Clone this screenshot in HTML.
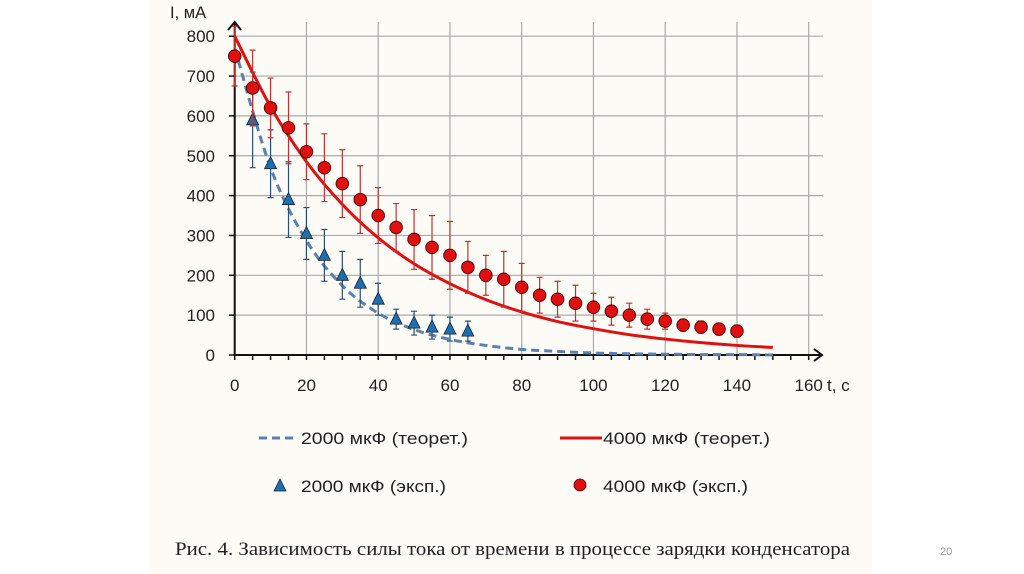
<!DOCTYPE html>
<html><head><meta charset="utf-8"><style>
html,body{margin:0;padding:0;background:#fff;}
svg{display:block;font-family:"Liberation Sans","DejaVu Sans",sans-serif;}
</style></head><body>
<svg id="chart" width="1024" height="574" viewBox="0 0 1024 574">
<rect x="150" y="0" width="722" height="574" fill="#fcfbf6"/>
<g id="grid"></g><g id="axes"></g><g id="series"></g>
<text x="170" y="18" font-size="16.5" fill="#222">I, мА</text>
<text x="827" y="391" font-size="17" fill="#222">t, c</text>
<g>
<g><line x1="259" y1="438" x2="298" y2="438" stroke="#5b80ad" stroke-width="3" stroke-dasharray="8,5"/><text x="301" y="444" font-size="17" fill="#222" textLength="167" lengthAdjust="spacingAndGlyphs">2000 мкФ (теорет.)</text></g>
<g><line x1="560" y1="438" x2="602" y2="438" stroke="#e01010" stroke-width="3"/><text x="603" y="444" font-size="17" fill="#222" textLength="167" lengthAdjust="spacingAndGlyphs">4000 мкФ (теорет.)</text></g>
<g><polygon points="280,479 274,491 286,491" fill="#1f6fb0" stroke="#123" stroke-width="0.8"/><text x="301" y="492" font-size="17" fill="#222" textLength="145" lengthAdjust="spacingAndGlyphs">2000 мкФ (эксп.)</text></g>
<g><circle cx="580" cy="485" r="6" fill="#e01010" stroke="#400" stroke-width="0.8"/><text x="603" y="492" font-size="17" fill="#222" textLength="145" lengthAdjust="spacingAndGlyphs">4000 мкФ (эксп.)</text></g>
</g>
<text x="175" y="555" font-size="19" fill="#222" font-family="'Liberation Serif',serif" textLength="675" lengthAdjust="spacingAndGlyphs">Рис. 4. Зависимость силы тока от времени в процессе зарядки конденсатора</text>
<text x="940" y="555" font-size="11" fill="#999">20</text>
</svg>
<script>
const xTicks=[0,20,40,60,80,100,120,140,160];
const yTicks=[0,100,200,300,400,500,600,700,800];
const redT=[0,5,10,15,20,25,30,35,40,45,50,55,60,65,70,75,80,85,90,95,100,105,110,115,120,125,130,135,140];
const redVal=[750,670,620,570,510,470,430,390,350,320,290,270,250,220,200,190,170,150,140,130,120,110,100,90,85,75,70,65,60];
const redErr=[75,95,75,90,70,85,85,85,70,60,75,80,85,65,50,70,60,45,45,45,35,35,30,25,20,15,15,15,15];
const blueT=[5,10,15,20,25,30,35,40,45,50,55,60,65];
const blueVal=[590,480,390,305,250,200,180,140,90,80,70,65,60];
const blueErr=[120,85,95,65,65,60,60,40,25,30,30,30,25];
const theoT=[0,10,20,30,40,50,60,70,80,90,100,110,120,130,140,150];
const redTheo=[800,623,485,378,294,229,179,139,108,84,66,51,40,31,24,19];
const blueTheo=[770,470,287,174,105,64,39,24,14,9,5,3,2,1,1,0];
const NS="http://www.w3.org/2000/svg";
const X=t=>234.7+t*3.5875, Y=v=>355-v*0.3985;
function el(tag,attrs,parent){const e=document.createElementNS(NS,tag);for(const k in attrs)e.setAttribute(k,attrs[k]);document.getElementById(parent).appendChild(e);return e;}
xTicks.forEach(t=>{if(t>0){const l=el('line',{x1:X(t),x2:X(t),y1:22,y2:355,stroke:'#aaa','stroke-width':1.2},'grid');

}
const tx=el('text',{x:X(t),y:391,'font-size':17,fill:'#222','text-anchor':'middle'},'axes');tx.textContent=t;

});
yTicks.forEach(v=>{if(v>0){const l=el('line',{x1:234,x2:823,y1:Y(v),y2:Y(v),stroke:'#aaa','stroke-width':1.2},'grid');

}
const tx=el('text',{x:215,y:Y(v)+6,'font-size':17,fill:'#222','text-anchor':'end'},'axes');tx.textContent=v;

});
for(let t=0;t<=160;t+=5){el('line',{x1:X(t),x2:X(t),y1:355,y2:360,stroke:'#111','stroke-width':1.5},'axes');}
for(let v=0;v<=800;v+=100){el('line',{x1:229,x2:234.7,y1:Y(v),y2:Y(v),stroke:'#111','stroke-width':1.5},'axes');}
let a=el('path',{d:'M234.7,355 V22 M228,30 L234.7,22 L241,30',stroke:'#111','stroke-width':2,fill:'none'},'axes');


a=el('path',{d:'M234.7,355 H822 M814,349 L822,355 L814,361',stroke:'#111','stroke-width':2,fill:'none'},'axes');


function smooth(ts,vs){const p=ts.map((t,i)=>[X(t),Y(vs[i])]);let d='M'+p[0];for(let i=0;i<p.length-1;i++){const p0=p[i-1]||p[i],p1=p[i],p2=p[i+1],p3=p[i+2]||p2;
d+=' C'+(p1[0]+(p2[0]-p0[0])/6)+','+(p1[1]+(p2[1]-p0[1])/6)+' '+(p2[0]-(p3[0]-p1[0])/6)+','+(p2[1]-(p3[1]-p1[1])/6)+' '+p2;}return d;}
let c=el('path',{d:smooth(theoT,blueTheo),stroke:'#5b80ad','stroke-width':3,'stroke-dasharray':'8,5',fill:'none'},'series');


c=el('path',{d:smooth(theoT,redTheo),stroke:'#e01010','stroke-width':3,fill:'none'},'series');


function errbar(t,v,e,col){const x=X(t);el('path',{d:`M${x},${Y(v+e)}V${Y(v-e)}M${x-3},${Y(v+e)}h6M${x-3},${Y(v-e)}h6`,stroke:col,'stroke-width':1.2,fill:'none'},'series');}
blueT.forEach((t,i)=>{errbar(t,blueVal[i],blueErr[i],'#2a4f78');const x=X(t),y=Y(blueVal[i]);
const m=el('polygon',{points:`${x},${y-7} ${x-6},${y+5} ${x+6},${y+5}`,fill:'#1f6fb0',stroke:'#123','stroke-width':0.8},'series');

});
redT.forEach((t,i)=>{errbar(t,redVal[i],redErr[i],'#b33');
const m=el('circle',{cx:X(t),cy:Y(redVal[i]),r:6.3,fill:'#e01010',stroke:'#400','stroke-width':0.9},'series');

});
</script>
</body></html>
